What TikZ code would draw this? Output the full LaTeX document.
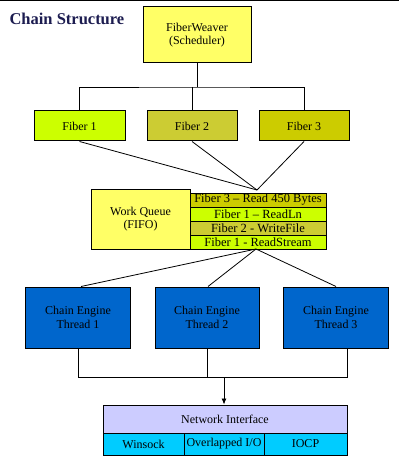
\documentclass[tikz,border=0pt]{standalone}
\usepackage{fontspec}
\setmainfont{Liberation Serif}
\usetikzlibrary{arrows.meta}
\definecolor{fwyellow}{HTML}{FFFF66}
\definecolor{lime}{HTML}{CCFF00}
\definecolor{olivea}{HTML}{CCCC33}
\definecolor{oliveb}{HTML}{CCCC00}
\definecolor{engblue}{HTML}{0066CC}
\definecolor{nilav}{HTML}{CCCCFF}
\definecolor{nicyan}{HTML}{00CCFF}
\definecolor{titlenavy}{HTML}{1C1C50}
\tikzset{
  box/.style={draw=black, line width=1pt, rectangle, inner sep=0pt, align=center,
    font=\fontsize{12}{13.5}\selectfont},
  row/.style={box, minimum width=136pt, minimum height=14pt, font=\fontsize{12.5}{13}\selectfont},
  fiberbox/.style={box, minimum width=90pt, minimum height=30pt},
  engine/.style={box, fill=engblue, minimum width=105pt, minimum height=61pt},
  cell/.style={box, fill=nicyan, minimum height=22pt},
  conn/.style={draw=black, line width=0.8pt}
}
\begin{document}
\begin{tikzpicture}[x=1pt,y=-1pt]
\useasboundingbox (0,0) rectangle (403,465);
\draw[line width=1.2pt] (0,0.6) -- (399,0.6);
\node[anchor=base west, text=titlenavy, font=\fontsize{16.5}{18}\selectfont\bfseries] (title) at (6,25) {Chain Structure};

\node[box, fill=fwyellow, minimum width=108pt, minimum height=56pt] (fw) at (197,35) {FiberWeaver\\(Scheduler)};

\node[fiberbox, fill=lime, minimum width=91pt] (f1) at (79.5,126) {Fiber 1};
\node[fiberbox, fill=olivea] (f2) at (192,126) {Fiber 2};
\node[fiberbox, fill=oliveb] (f3) at (304,126) {Fiber 3};

\coordinate (jt) at (197,87);
\draw[conn] (fw.south) -- (jt);
\draw[conn] (f1.north) |- (jt) -| (f3.north);
\draw[conn] (f2.north) -- (f2.north |- jt);

\node[box, fill=fwyellow, minimum width=99pt, minimum height=60pt] (wq) at (140.5,219) {Work Queue\\(FIFO)};
\node[row, fill=oliveb] (r1) at (258,200) {Fiber 3 – Read 450 Bytes};
\node[row, fill=lime] (r2) at (258,214) {Fiber 1 – ReadLn};
\node[row, fill=olivea] (r3) at (258,228) {Fiber 2 - WriteFile};
\node[row, fill=lime] (r4) at (258,242) {Fiber 1 - ReadStream};

\coordinate (qtop) at (257,190);
\draw[conn] (f1.south) -- (qtop);
\draw[conn] (f2.south) -- (qtop);
\draw[conn] (f3.south) -- (qtop);

\node[engine] (e1) at (78,317.5) {Chain Engine\\Thread 1};
\node[engine, minimum width=104pt] (e2) at (207,317.5) {Chain Engine\\Thread 2};
\node[engine] (e3) at (336,317.5) {Chain Engine\\Thread 3};

\coordinate (qbot) at (256,249);
\draw[conn] (qbot) -- ([xshift=3pt]e1.north);
\draw[conn] (qbot) -- ([xshift=1pt]e2.north);
\draw[conn] (qbot) -- (e3.north);

\node[box, fill=nilav, minimum width=244pt, minimum height=28pt] (ni) at (225,419) {Network Interface};
\node[cell, minimum width=81pt] (c1) at (143.5,444) {Winsock};
\node[cell, minimum width=80pt] (c2) at (224,444) {Overlapped I/O};
\node[cell, minimum width=83pt] (c3) at (305.5,444) {IOCP};

\coordinate (jb) at (224,377);
\draw[conn] (e1.south) |- (jb);
\draw[conn] (e2.south) -- (e2.south |- jb);
\draw[conn] ([xshift=11pt]e3.south) |- (jb);
\draw[conn, -{Latex[length=6pt,width=5pt]}] (jb) -- (jb |- ni.north);
\end{tikzpicture}
\end{document}
